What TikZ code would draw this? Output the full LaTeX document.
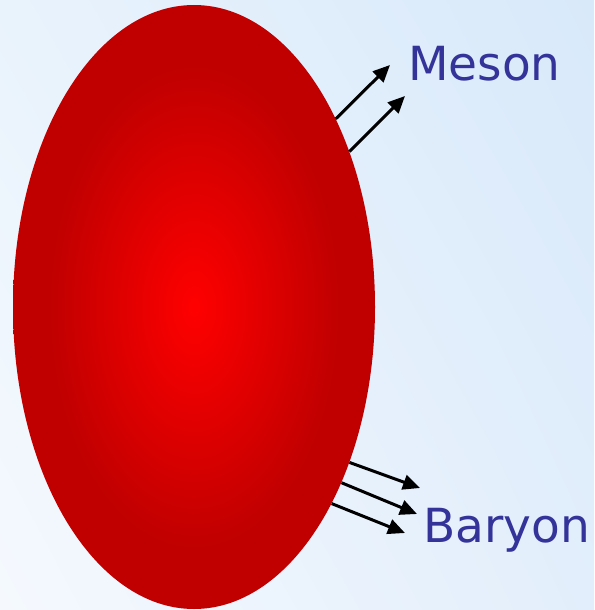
\documentclass[tikz,border=0pt]{standalone}
\usepackage{fontspec}
\usepackage{tikz}
\usetikzlibrary{arrows.meta,shapes.geometric,shadings}
\newfontfamily\labelfont{DejaVu Sans}
\definecolor{hotred}{RGB}{255,0,0}
\definecolor{deepred}{RGB}{192,0,0}
\definecolor{labelblue}{RGB}{51,51,153}
\definecolor{skyA}{RGB}{233,243,252}
\definecolor{skyB}{RGB}{216,233,250}
\definecolor{skyC}{RGB}{245,249,254}
\definecolor{skyD}{RGB}{226,238,251}
\pgfdeclareradialshading{blobshade}{\pgfpoint{0bp}{0bp}}{%
  color(0bp)=(hotred); color(20bp)=(deepred); color(25bp)=(deepred); color(50bp)=(deepred)}

\begin{document}
\begin{tikzpicture}[x=1pt,y=-1pt,
  blob/.style={ellipse,inner sep=0pt,minimum width=362pt,minimum height=604pt,
               shading=blobshade},
  lbl/.style={labelblue,font=\labelfont\fontsize{47}{50}\selectfont,inner sep=0pt,anchor=base west},
  arr/.style={-{Triangle[length=17pt,width=15pt]},line width=3pt,black}]
  \shade[upper left=skyA,upper right=skyB,lower left=skyC,lower right=skyD]
    (0,0) rectangle (594,610);
  \useasboundingbox (0,0) rectangle (594,610);
  \node[blob] (nucleus) at (194,307) {};
  \node[lbl] (meson) at (408,80) {Meson};
  \node[lbl] (baryon) at (423,542) {Baryon};
  % emitted particles
  \coordinate (m1) at (390,65);
  \coordinate (m2) at (405,96);
  \coordinate (b1) at (420,488);
  \coordinate (b2) at (417,514);
  \coordinate (b3) at (405,533);
  \draw[arr] (nucleus.53) -- (m1);
  \draw[arr] (nucleus.45) -- (m2);
  \draw[arr] (nucleus.-45) -- (b1);
  \draw[arr] (nucleus.-50) -- (b2);
  \draw[arr] (nucleus.-55) -- (b3);
\end{tikzpicture}
\end{document}
